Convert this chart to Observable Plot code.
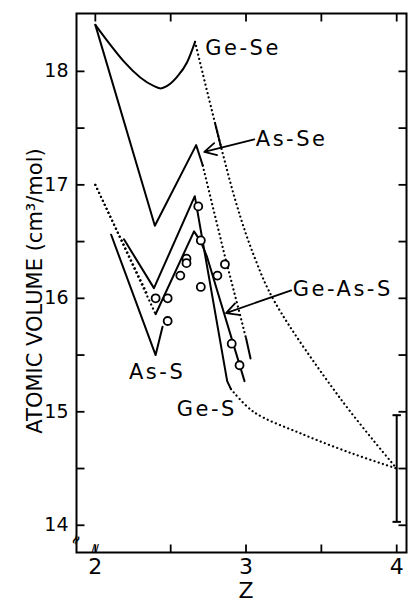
<!DOCTYPE html>
<html><head><meta charset="utf-8">
<script src="https://cdn.jsdelivr.net/npm/d3@7"></script>
<script src="https://cdn.jsdelivr.net/npm/@observablehq/plot@0.6"></script>
<style>
html,body{margin:0;padding:0;background:#fff;}
#chart svg{display:block;}
</style>
</head><body><div id="chart"></div>
<script>
// ---- data: [Z, atomic volume] ----
const geSeSolid   = [[2.00,18.41],[2.39,17.87],[2.434,17.85],[2.474,17.87],[2.541,17.95],[2.609,18.08],[2.662,18.26]];
const geSeDotted  = [[2.662,18.26],[2.93,16.86],[3.06,16.35],[3.19,15.97],[3.63,15.11],[4.00,14.50]];
const geSeDash    = [[2.795,17.54],[2.835,17.33]];
const asSeSolid   = [[2.00,18.41],[2.395,16.64],[2.669,17.35],[2.713,17.17]];
const asSeDotted  = [[2.713,17.17],[2.86,16.37],[3.00,15.65]];
const asSeDash    = [[3.00,15.65],[3.03,15.47]];
const geSSolid    = [[2.19,16.52],[2.389,16.09],[2.66,16.90],[2.875,15.27],[2.90,15.20]];
const geSDotted   = [[2.90,15.20],[3.05,15.00],[3.38,14.80],[3.71,14.63],[4.00,14.50]];
const geAsSDotA   = [[2.00,17.00],[2.40,15.86]];
const geAsSDotB   = [[2.00,17.00],[2.35,16.02]];
const geAsSSolid  = [[2.40,15.86],[2.655,16.59],[2.70,16.50],[2.74,16.37],[2.99,15.27]];
const asSSolid    = [[2.105,16.56],[2.40,15.50],[2.446,15.75]];
const geAsSPoints = [[2.683,16.81],[2.70,16.51],[2.605,16.35],[2.605,16.31],[2.564,16.20],[2.86,16.30],[2.81,16.20],[2.70,16.10],[2.40,16.00],[2.48,16.00],[2.48,15.80],[2.905,15.60],[2.957,15.41]];
const errZ = [4.0], errLow = [14.03], errHigh = [14.97];

const startLabels = ["Ge-Se", "As-Se", "Ge-As-S"];
const startZ      = [2.73, 3.065, 3.31];
const startV      = [18.20, 17.40, 16.08];
const midLabels   = ["As-S", "Ge-S"];
const midZ        = [2.41, 2.74];
const midV        = [15.35, 15.02];
const arrowFrom   = [[3.055,17.40],[3.30,16.07]];
const arrowTo     = [[2.723,17.29],[2.867,15.87]];

const xTicksMinor = [2, 2.5, 3, 3.5, 4];
const xTickLabels = [2, 3, 4];
const yTicksMinor = [14, 14.5, 15, 15.5, 16, 16.5, 17, 17.5, 18];
const yTickLabels = [14, 15, 16, 17, 18];
const yTitle = "ATOMIC VOLUME (cm³/mol)";
const xTitle = "Z";

// ---- layout ----
const W = 409, H = 598, mL = 76, mR = 3, mT = 13, mB = 46;
const xDom = [1.875, 4.065], yDom = [13.76, 18.51];
const innerW = W - mL - mR, innerH = H - mT - mB, tick = 8;
const dxTick = tick * (xDom[1] - xDom[0]) / innerW;   // tick length in x-units
const dyTick = tick * (yDom[1] - yDom[0]) / innerH;   // tick length in y-units

// ---- helpers ----
const pts = a => a.map(([z, v]) => ({z, v}));
const solid  = {x: "z", y: "v", stroke: "#000", strokeWidth: 2, strokeLinejoin: "round", strokeLinecap: "round"};
const dotted = {x: "z", y: "v", stroke: "#000", strokeWidth: 2.2, strokeDasharray: "0.1,4.3", strokeLinecap: "round"};
const sLab = startLabels.map((t, i) => ({t, z: startZ[i], v: startV[i]}));
const mLab = midLabels.map((t, i) => ({t, z: midZ[i], v: midV[i]}));
const arrows = arrowFrom.map((f, i) => ({x1: f[0], y1: f[1], x2: arrowTo[i][0], y2: arrowTo[i][1]}));
const errs = errZ.map((z, i) => ({z, lo: errLow[i], hi: errHigh[i]}));
const capHalf = 0.028;
const fmt = d3.format("d");
const tk = {stroke: "#000", strokeWidth: 1.8};

const chart = Plot.plot({
  width: W, height: H,
  marginLeft: mL, marginRight: mR, marginTop: mT, marginBottom: mB,
  style: {fontFamily: "DejaVu Sans", color: "#000", background: "#fff"},
  x: {domain: xDom},
  y: {domain: yDom},
  marks: [
    Plot.frame({stroke: "#000", strokeWidth: 2}),
    // inward ticks on all four sides
    Plot.link(yTicksMinor, {x1: () => xDom[0], x2: () => xDom[0] + dxTick, y1: d => d, y2: d => d, ...tk}),
    Plot.link(yTicksMinor, {x1: () => xDom[1] - dxTick, x2: () => xDom[1], y1: d => d, y2: d => d, ...tk}),
    Plot.link(xTicksMinor, {x1: d => d, x2: d => d, y1: () => yDom[0], y2: () => yDom[0] + dyTick, ...tk}),
    Plot.link(xTicksMinor, {x1: d => d, x2: d => d, y1: () => yDom[1] - dyTick, y2: () => yDom[1], ...tk}),
    Plot.axisX({ticks: xTickLabels, anchor: "bottom", tickSize: 0, tickPadding: 6, fontSize: 22, tickFormat: fmt, label: null}),
    Plot.axisY({ticks: yTickLabels, anchor: "left", tickSize: 0, tickPadding: 8, fontSize: 19, tickFormat: fmt, label: null}),
    Plot.text([yTitle], {frameAnchor: "left", textAnchor: "middle", rotate: -90, dx: -41, dy: 8, fontSize: 21}),
    Plot.text([xTitle], {x: [3], frameAnchor: "bottom", dy: 45, fontSize: 22}),
    Plot.text(["≈"], {frameAnchor: "bottom-left", dx: 1, dy: -6, rotate: -65, fontSize: 13, fontWeight: "bold"}),
    Plot.text(["//"], {frameAnchor: "bottom-left", dx: 15, dy: -1, fontSize: 10, fontWeight: "bold"}),

    Plot.line(pts(geSeSolid), {...solid, curve: "monotone-x"}),
    Plot.line(pts(geSeDotted), {...dotted, curve: "catmull-rom"}),
    Plot.line(pts(geSeDash), solid),
    Plot.line(pts(asSeSolid), solid),
    Plot.line(pts(asSeDotted), dotted),
    Plot.line(pts(asSeDash), solid),
    Plot.line(pts(geSSolid), solid),
    Plot.line(pts(geSDotted), {...dotted, curve: "catmull-rom"}),
    Plot.line(pts(geAsSDotA), dotted),
    Plot.line(pts(geAsSDotB), dotted),
    Plot.line(pts(geAsSSolid), solid),
    Plot.line(pts(asSSolid), solid),
    Plot.dot(pts(geAsSPoints), {x: "z", y: "v", r: 4, stroke: "#000", fill: "#fff", strokeWidth: 1.8}),

    Plot.ruleX(errs, {x: "z", y1: "lo", y2: "hi", stroke: "#000", strokeWidth: 2}),
    Plot.link(errs, {x1: d => d.z - capHalf, x2: d => d.z + capHalf, y1: "lo", y2: "lo", stroke: "#000", strokeWidth: 2}),
    Plot.link(errs, {x1: d => d.z - capHalf, x2: d => d.z + capHalf, y1: "hi", y2: "hi", stroke: "#000", strokeWidth: 2}),

    Plot.arrow(arrows, {x1: "x1", y1: "y1", x2: "x2", y2: "y2", stroke: "#000", strokeWidth: 1.8, headLength: 11, headAngle: 55}),
    Plot.text(sLab, {x: "z", y: "v", text: "t", textAnchor: "start", fontSize: 21, fill: "#000"}),
    Plot.text(mLab, {x: "z", y: "v", text: "t", textAnchor: "middle", fontSize: 21, fill: "#000"})
  ]
});
const allLabels = new Set([...startLabels, ...midLabels]);
d3.select(chart).selectAll("text").filter(function() { return allLabels.has(this.textContent); })
  .attr("letter-spacing", "2.5px");
document.getElementById("chart").appendChild(chart);
</script>
</body></html>
